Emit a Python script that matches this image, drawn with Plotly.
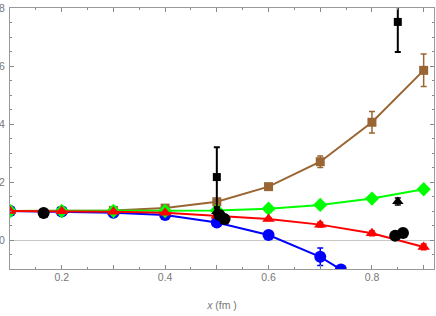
import plotly.graph_objects as go

# ---- data ----
x_main = [0.1, 0.2, 0.3, 0.4, 0.5, 0.6, 0.7, 0.8, 0.9]

blue_x = [0.1, 0.2, 0.3, 0.4, 0.5, 0.6, 0.7, 0.74]
blue_y = [1.0, 0.98, 0.94, 0.86, 0.6, 0.17, -0.58, -1.02]
blue_err = [0, 0, 0, 0.03, 0.04, 0.05, 0.3, 0]

red_y = [1.0, 0.99, 0.97, 0.94, 0.84, 0.72, 0.53, 0.23, -0.24]
red_err = [0, 0, 0, 0.03, 0.03, 0.05, 0.08, 0.08, 0.1]

green_y = [1.0, 1.0, 1.0, 1.0, 1.02, 1.08, 1.21, 1.43, 1.75]
green_err = [0, 0, 0, 0, 0, 0, 0, 0, 0]

brown_y = [1.0, 1.0, 1.02, 1.1, 1.32, 1.84, 2.7, 4.06, 5.85]
brown_err = [0, 0, 0.02, 0.08, 0.1, 0.08, 0.2, 0.37, 0.56]

blk_sq_x = [0.5, 0.85]
blk_sq_y = [2.17, 7.52]
blk_sq_err = [1.03, 1.04]

blk_tri_x = [0.5, 0.85]
blk_tri_y = [0.98, 1.33]
blk_tri_err = [0.1, 0.12]

blk_circ_x = [0.165, 0.505, 0.515, 0.845, 0.86]
blk_circ_y = [0.93, 0.86, 0.72, 0.15, 0.24]

x_tickvals = [0.1, 0.2, 0.3, 0.4, 0.5, 0.6, 0.7, 0.8, 0.9]
x_ticktext = ["", "0.2", "", "0.4", "", "0.6", "", "0.8", ""]
y_tickvals = [0, 2, 4, 6, 8]
y_ticktext = ["0", "2", "4", "6", "8"]

BROWN = "#996633"
BLUE = "#0000ff"
GREEN = "#00ff00"
RED = "#ff0000"

fig = go.Figure()


def err(arr, color, thick=1.5, width=3):
    return dict(type="data", array=arr, visible=True, color=color,
                thickness=thick, width=width)


fig.add_trace(go.Scatter(x=x_main, y=brown_y, mode="lines+markers",
                         line=dict(color=BROWN, width=2),
                         marker=dict(symbol="square", size=9, color=BROWN),
                         error_y=err(brown_err, BROWN)))
fig.add_trace(go.Scatter(x=blue_x, y=blue_y, mode="lines+markers",
                         line=dict(color=BLUE, width=2),
                         marker=dict(symbol="circle", size=12, color=BLUE),
                         error_y=err(blue_err, BLUE)))
fig.add_trace(go.Scatter(x=x_main, y=green_y, mode="lines+markers",
                         line=dict(color=GREEN, width=2),
                         marker=dict(symbol="diamond", size=11, color=GREEN),
                         error_y=err(green_err, GREEN)))
fig.add_trace(go.Scatter(x=x_main, y=red_y, mode="lines+markers",
                         line=dict(color=RED, width=2),
                         marker=dict(symbol="triangle-up", size=11, color=RED),
                         error_y=err(red_err, RED)))
fig.add_trace(go.Scatter(x=blk_sq_x, y=blk_sq_y, mode="markers",
                         marker=dict(symbol="square", size=8, color="black"),
                         error_y=err(blk_sq_err, "black", thick=2, width=3)))
fig.add_trace(go.Scatter(x=blk_tri_x, y=blk_tri_y, mode="markers",
                         marker=dict(symbol="triangle-up", size=10, color="black"),
                         error_y=err(blk_tri_err, "black", thick=1.5, width=3)))
fig.add_trace(go.Scatter(x=blk_circ_x, y=blk_circ_y, mode="markers",
                         marker=dict(symbol="circle", size=12, color="black")))

axis_font = dict(family="Liberation Sans, Arial, sans-serif", size=10.5, color="#777777")

fig.update_layout(
    width=436, height=316,
    margin=dict(l=10, r=2, t=8, b=47),
    paper_bgcolor="white", plot_bgcolor="white",
    showlegend=False,
    xaxis=dict(range=[0.1, 0.92], tickvals=x_tickvals, ticktext=x_ticktext,
               automargin=False,
               ticks="inside", ticklen=4, tickcolor="#888888",
               minor=dict(dtick=0.05, ticks="inside", ticklen=2, tickcolor="#888888"),
               showgrid=False, zeroline=False,
               showline=True, linecolor="#999999", linewidth=1, mirror="ticks",
               tickfont=axis_font, ticklabelstandoff=-2,
               title=dict(text="<i>x</i> (fm )", font=axis_font, standoff=20)),
    yaxis=dict(range=[-1, 8], tickvals=y_tickvals, ticktext=y_ticktext,
               automargin=False,
               ticks="inside", ticklen=4, tickcolor="#888888",
               minor=dict(dtick=0.5, ticks="inside", ticklen=2, tickcolor="#888888"),
               showgrid=False, zeroline=True, zerolinecolor="#c8c8c8", zerolinewidth=1,
               showline=True, linecolor="#999999", linewidth=1, mirror="ticks",
               tickfont=axis_font, ticklabelstandoff=2),
)

fig.write_html("out.html", config={"displayModeBar": False},
               post_script="document.body.style.margin='0';document.body.style.overflow='hidden';")
